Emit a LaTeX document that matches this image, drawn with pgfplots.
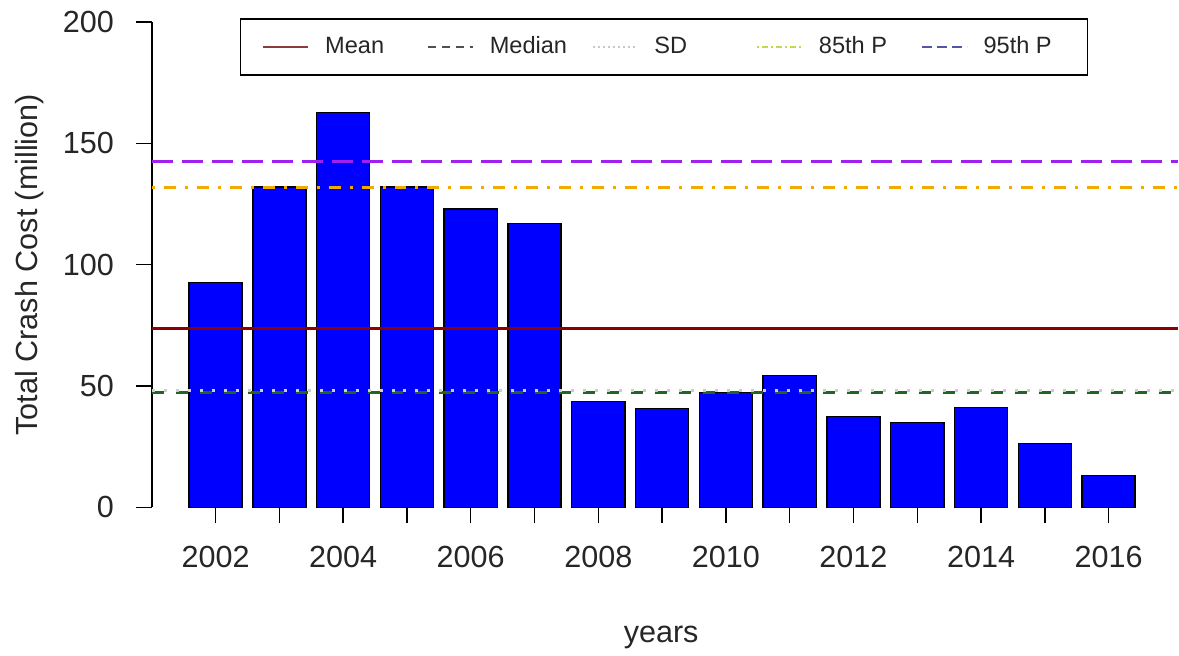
\documentclass[border=0pt]{standalone}
\usepackage{fontspec}
\setmainfont{Liberation Sans}
\usepackage{pgfplots}
\pgfplotsset{compat=1.18}
\definecolor{barblue}{RGB}{0,0,255}
\definecolor{meanred}{RGB}{139,0,0}
\definecolor{medgreen}{RGB}{34,100,34}
\definecolor{sdgray}{RGB}{205,205,205}
\definecolor{p85}{RGB}{240,170,0}
\definecolor{p95}{RGB}{160,32,240}
\definecolor{legmean}{RGB}{140,60,60}
\definecolor{legmed}{RGB}{80,80,80}
\definecolor{legsd}{RGB}{200,200,200}
\definecolor{leg85}{RGB}{200,215,80}
\definecolor{leg95}{RGB}{85,85,165}
\begin{document}
\begin{tikzpicture}
\begin{axis}[
  width=513.5pt, height=243pt, scale only axis,
  xmin=2001, xmax=2017.08, ymin=0, ymax=200,
  clip=false,
  axis line style={draw=none},
  xtick={2002,2003,...,2016},
  xticklabels={2002,,2004,,2006,,2008,,2010,,2012,,2014,,2016},
  ytick={0,50,100,150,200},
  tick align=outside, xtick pos=left, ytick pos=left,
  major tick length=8pt,
  tick style={black, line width=0.7pt},
  tick label style={font=\fontsize{15.3}{18}\selectfont, text=black!85},
  /pgf/number format/assume math mode=true,
  xticklabel style={yshift=-8pt},
  yticklabel style={xshift=-7.5pt},
  ylabel={Total Crash Cost (million)},
  ylabel style={at={(axis description cs:-0.1188,0.5)}, anchor=center, font=\fontsize{15.3}{18}\selectfont, text=black!85},
  xlabel={years},
  xlabel style={at={(axis description cs:0.4966,-0.2778)}, anchor=base, font=\fontsize{15.3}{18}\selectfont, text=black!85},
  legend columns=5,
  legend style={at={(axis description cs:0.0857,1.008)}, anchor=north west,
    draw=black, line width=0.8pt, inner xsep=11pt, inner ysep=7pt,
    font=\fontsize{11.8}{14}\selectfont, text=black!85,
    /tikz/every odd column/.append style={column sep=6pt}},
  legend image code/.code={\draw[#1, line width=0.9pt] (0pt,0pt) -- (22.5pt,0pt);},
]
\addplot[ybar, bar width=0.833, fill=barblue, draw=black, line width=0.7pt, forget plot]
  coordinates {(2002,92.6) (2003,132) (2004,162.6) (2005,132) (2006,123) (2007,116.9)
  (2008,43.6) (2009,40.7) (2010,47.3) (2011,54.3) (2012,37.4) (2013,35) (2014,41.2)
  (2015,26.3) (2016,13.2)};
\draw[black, line width=0.7pt] (axis cs:2001,0) -- (axis cs:2001,200);
\addplot[meanred, line width=1.5pt, legend image post style={color=legmean}]
  coordinates {(2001,73.7) (2017.08,73.7)};
\addlegendentry{\makebox[49pt][l]{Mean}}
\addplot[medgreen, line width=1.5pt, dash pattern=on 6pt off 6pt, legend image post style={color=legmed, dash pattern=on 4pt off 3pt}]
  coordinates {(2001,47.5) (2017.08,47.5)};
\addlegendentry{\makebox[49pt][l]{Median}}
\addplot[sdgray, line width=1.5pt, dash pattern=on 1.5pt off 4.5pt, legend image post style={color=legsd, dash pattern=on 1pt off 1.5pt}]
  coordinates {(2001,48) (2017.08,48)};
\addlegendentry{\makebox[49pt][l]{SD}}
\addplot[p85, line width=1.5pt, dash pattern=on 1.5pt off 4.5pt on 6pt off 4.5pt, legend image post style={color=leg85, dash pattern=on 1pt off 1.5pt on 3pt off 1.5pt}]
  coordinates {(2001,132) (2017.08,132)};
\addlegendentry{\makebox[49pt][l]{85th P}}
\addplot[p95, line width=1.5pt, dash pattern=on 10.5pt off 4.5pt, legend image post style={color=leg95, dash pattern=on 5pt off 2.5pt}]
  coordinates {(2001,142.4) (2017.08,142.4)};
\addlegendentry{\makebox[39pt][l]{95th P}}
\end{axis}
\path (current axis.south west) ++(-76pt,-73pt) coordinate (bbA);
\path (current axis.north east) ++(0pt,11pt) coordinate (bbB);
\path (bbA) rectangle (bbB);
\end{tikzpicture}
\end{document}
